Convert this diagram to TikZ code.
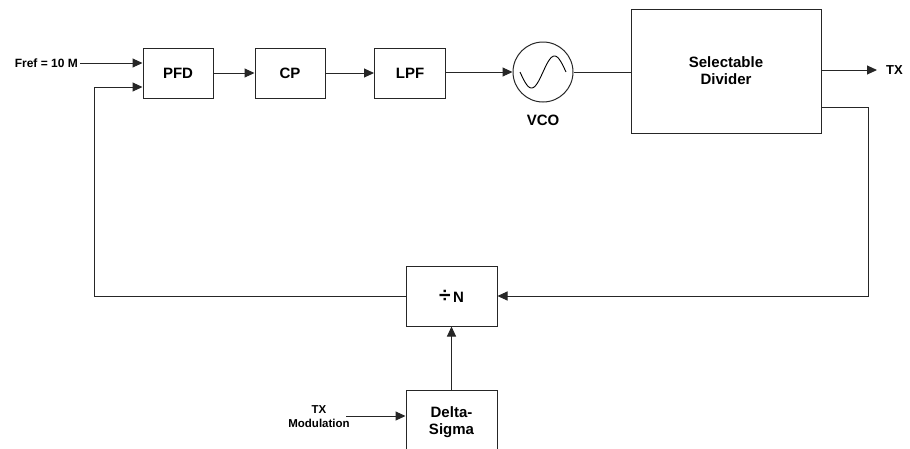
\documentclass[tikz,border=0pt]{standalone}
\usepackage{fontspec}
\setmainfont{Liberation Sans}
\usetikzlibrary{arrows.meta,positioning}
\begin{document}
\begin{tikzpicture}[x=1pt,y=-1pt,
  every node/.style={font=\bfseries\fontsize{15}{17}\selectfont},
  blk/.style={draw=black!85,line width=1pt,inner sep=0pt,align=center},
  lbl/.style={font=\bfseries\fontsize{12}{14}\selectfont,inner sep=0pt,align=center},
  wire/.style={draw=black!85,line width=1pt},
  arr/.style={wire,-{Triangle[length=10pt,width=9pt]}}]
\useasboundingbox (0,0) rectangle (910,448);
\clip (0,0) rectangle (910,448);
\node[blk,minimum width=70pt,minimum height=50pt] (pfd) at (178,73) {PFD};
\node[blk,minimum width=70pt,minimum height=50pt] (cp) at (290,73) {CP};
\node[blk,minimum width=71pt,minimum height=50pt] (lpf) at (410,73) {LPF};
\node[blk,circle,minimum size=60pt] (vco) at (543,72) {};
\draw[line width=0.9pt] plot[domain=-1:1,samples=50,smooth] ({543+23*\x},{72-16*sin(180*\x)});
\node[inner sep=0pt] (vcol) at (543,120) {VCO};
\node[blk,minimum width=190pt,minimum height=124pt] (sel) at (726,71) {Selectable\\Divider};
\node[lbl,anchor=west,font=\bfseries\fontsize{13}{15}\selectfont] (tx) at (886,70) {TX};
\node[blk,minimum width=91pt,minimum height=60pt] (divn) at (451.5,296) {{\fontsize{21}{17}\selectfont ÷}\,N};
\node[blk,minimum width=91pt,minimum height=64pt] (ds) at (451.5,422) {Delta-\\Sigma};
\node[lbl,anchor=east] (fref) at (78,63) {Fref = 10 M};
\node[lbl,font=\bfseries\fontsize{11.5}{14}\selectfont] (txm) at (319,417) {TX\\Modulation};
\coordinate (txs) at (346,416);
\coordinate (fbr) at (868,296);
\coordinate (fbl) at (94,296);
\draw[arr] ([xshift=2pt]fref.east) -- ([yshift=10pt]pfd.west);
\draw[arr] (pfd) -- (cp);
\draw[arr] (cp) -- (lpf);
\draw[arr] (lpf.east |- vco.west) -- (vco.west);
\draw[wire] (vco.east) -- (vco.east -| sel.west);
\draw[arr] (sel.east |- tx.west) -- ([xshift=-9pt]tx.west);
\draw[arr] ([yshift=-36pt]sel.east) -| (fbr) -- (divn.east);
\draw[arr] (divn.west) -- (fbl) |- ([yshift=-14pt]pfd.west);
\draw[arr] (ds.north) -- (divn.south);
\draw[arr] (txs) -- (txs -| ds.west);
\end{tikzpicture}
\end{document}
